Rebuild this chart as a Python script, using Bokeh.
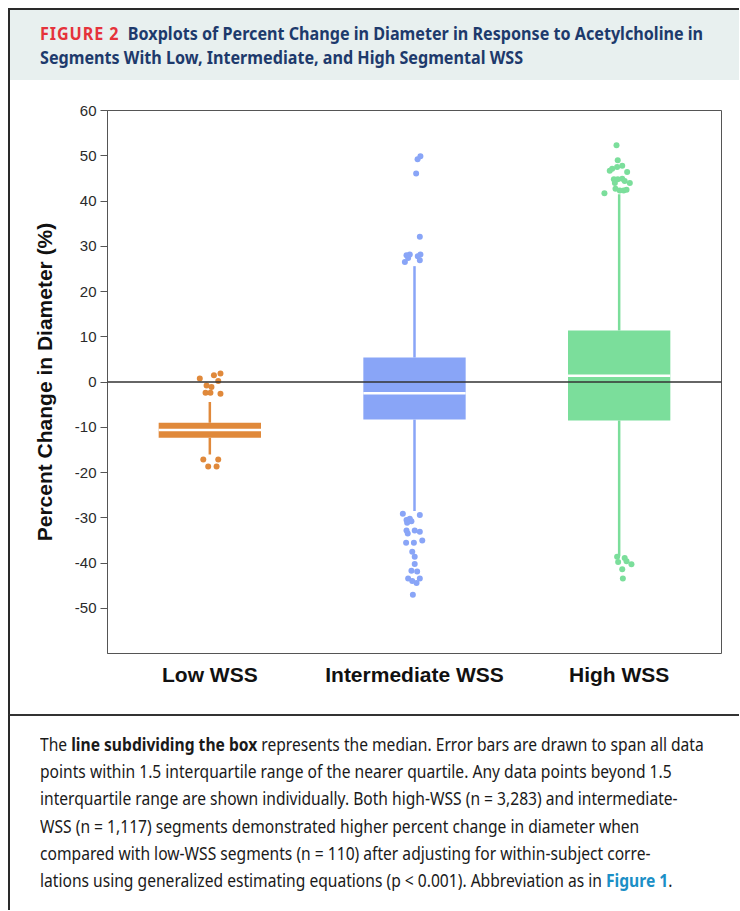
from bokeh.plotting import figure
from bokeh.models import Div, Range1d, FixedTicker, Span, ColumnDataSource
from bokeh.layouts import column, row
from bokeh.embed import file_html
from bokeh.resources import INLINE

# ---------------- data ----------------
categories = ["Low WSS", "Intermediate WSS", "High WSS"]
q1 = [-12.3, -8.3, -8.5]
median = [-10.6, -2.5, 1.4]
q3 = [-9.0, 5.4, 11.4]
whisker_low = [-16.0, -28.5, -38.5]
whisker_high = [-4.4, 25.6, 41.5]
colors = ["#E0893B", "#89A5F7", "#7BDE9B"]

# outliers: jitter offset (category units), value
low_out_jitter = [-0.049, 0.020, 0.052, 0.041, -0.016, 0.008, -0.021, 0.003, 0.052,
                  -0.032, 0.041, -0.008, 0.033]
low_out_vals = [0.8, 1.5, 1.9, 0.2, -0.8, -1.1, -2.4, -2.4, -2.6,
                -17.1, -17.1, -18.7, -18.7]

int_out_jitter = [0.029, 0.015, 0.008, 0.026, -0.023, -0.039, -0.047, 0.029, 0.016, 0.026, -0.031,
                  -0.057, 0.026, -0.039, -0.023, -0.015, -0.036, -0.039, 0.001, 0.026, -0.033,
                  -0.041, -0.003, 0.038, -0.011, 0.001, 0.001, -0.015, 0.013, -0.031, 0.026,
                  -0.011, 0.010, -0.008]
int_out_vals = [49.9, 49.2, 46.1, 32.1, 28.2, 28.0, 26.5, 28.2, 27.8, 26.9, 27.4,
                -29.1, -29.4, -30.5, -30.2, -30.8, -31.1, -32.8, -32.8, -33.1, -33.5,
                -35.5, -35.5, -35.0, -37.5, -38.6, -40.2, -41.7, -41.9, -43.4, -43.4,
                -44.0, -44.4, -47.0]

high_out_jitter = [-0.013, -0.007, 0.015, -0.010, -0.034, -0.046, 0.039, -0.026, -0.007,
                   0.015, 0.027, 0.052, -0.021, -0.018, 0.003, 0.022, 0.036, -0.072,
                   -0.010, 0.027, -0.005, 0.036, 0.060, 0.015, 0.018]
high_out_vals = [52.3, 49.0, 47.8, 47.5, 47.1, 46.7, 46.4, 44.8, 44.8,
                 44.9, 44.4, 44.0, 44.0, 42.7, 42.3, 42.3, 42.5, 41.7,
                 -38.6, -38.9, -39.8, -39.6, -40.3, -41.4, -43.4]

y_ticks = [-50, -40, -30, -20, -10, 0, 10, 20, 30, 40, 50, 60]

W = 731

# ---------------- header ----------------
hfont = "'Noto Sans','DejaVu Sans',sans-serif"
header = Div(
    text=(
        f'<div style="width:{W}px;height:72px;background:#e8f0ef;box-sizing:border-box;'
        f'border-top:2px solid #2a2a2a;border-left:2px solid #2a2a2a;overflow:hidden;'
        f'padding:11px 0 0 30px;">'
        f'<div style="display:inline-block;transform:scaleX(0.922);transform-origin:0 0;'
        f'font-family:{hfont};font-weight:bold;font-size:17.5px;line-height:24px;'
        f'color:#1d3a6c;white-space:nowrap;">'
        f'<span style="color:#e5333b;letter-spacing:1px;">FIGURE 2</span>&nbsp;&nbsp;'
        f'Boxplots of Percent Change in Diameter in Response to Acetylcholine in<br>'
        f'Segments With Low, Intermediate, and High Segmental WSS</div></div>'
    ),
    width=W, height=72, margin=0,
)

# ---------------- chart ----------------
p = figure(width=W - 2, height=634, output_backend="svg", toolbar_location=None,
           x_range=Range1d(0, 3), y_range=Range1d(-60, 60), margin=0,
           min_border_left=97, min_border_right=18, min_border_top=30, min_border_bottom=61)
p.grid.visible = False
p.outline_line_color = "#555555"
p.outline_line_width = 1
p.background_fill_color = "white"
p.border_fill_color = "white"

xs = [i + 0.5 for i in range(len(categories))]

p.add_layout(Span(location=0, dimension="width", line_color="#333333", line_width=1.5))

src = ColumnDataSource(dict(x=xs, q1=q1, q3=q3, med=median, lo=whisker_low, hi=whisker_high,
                            c=colors))
p.segment(x0="x", y0="lo", x1="x", y1="q1", line_color="c", line_width=2.5, source=src)
p.segment(x0="x", y0="q3", x1="x", y1="hi", line_color="c", line_width=2.5, source=src)
p.vbar(x="x", width=0.5, bottom="q1", top="q3", fill_color="c", line_color=None, source=src)
p.segment(x0=[x - 0.25 for x in xs], y0=median, x1=[x + 0.25 for x in xs], y1=median,
          line_color="white", line_width=2.5)

for i, (jit, vals) in enumerate([(low_out_jitter, low_out_vals),
                                  (int_out_jitter, int_out_vals),
                                  (high_out_jitter, high_out_vals)]):
    p.scatter(x=[xs[i] + j for j in jit], y=vals, size=6, fill_color=colors[i],
              line_color=None)

# axes
p.yaxis.ticker = FixedTicker(ticks=y_ticks)
p.yaxis.major_label_overrides = {t: str(t) for t in y_ticks}
p.yaxis.axis_label = "Percent Change in Diameter (%)"
p.yaxis.axis_label_text_font = "Liberation Sans"
p.yaxis.axis_label_text_font_style = "bold"
p.yaxis.axis_label_text_font_size = "21px"
p.yaxis.axis_label_text_color = "#111111"
p.yaxis.axis_label_standoff = 16
p.yaxis.major_label_text_font = "Liberation Sans"
p.yaxis.major_label_text_font_size = "15px"
p.yaxis.major_label_text_color = "#2a2a2a"
p.yaxis.major_label_standoff = 4
p.yaxis.major_tick_out = 7
p.yaxis.major_tick_in = 0
p.yaxis.minor_tick_line_color = None
p.yaxis.axis_line_color = "#555555"
p.yaxis.major_tick_line_color = "#555555"

p.xaxis.ticker = FixedTicker(ticks=xs)
p.xaxis.major_label_overrides = {x: c for x, c in zip(xs, categories)}
p.xaxis.major_label_text_font = "Liberation Sans"
p.xaxis.major_label_text_font_style = "bold"
p.xaxis.major_label_text_font_size = "21px"
p.xaxis.major_label_text_color = "#111111"
p.xaxis.major_label_standoff = 3
p.xaxis.major_tick_line_color = None
p.xaxis.minor_tick_line_color = None
p.xaxis.axis_line_color = None

left_rule = Div(text='<div style="width:2px;height:634px;background:#2a2a2a;"></div>',
                width=2, height=634, margin=0)

# ---------------- caption ----------------
cfont = "'Noto Sans','DejaVu Sans',sans-serif"
caption = Div(
    text=(
        f'<div style="width:{W}px;height:196px;box-sizing:border-box;border-top:2px solid #333;'
        f'border-left:2px solid #2a2a2a;overflow:hidden;padding:15px 0 0 30px;">'
        f'<div style="display:inline-block;transform:scaleX(0.892);transform-origin:0 0;'
        f'font-family:{cfont};font-size:17.5px;line-height:27.2px;color:#1a1a1a;white-space:nowrap;">'
        f'The <b>line subdividing the box</b> represents the median. Error bars are drawn to span all data<br>'
        f'points within 1.5 interquartile range of the nearer quartile. Any data points beyond 1.5<br>'
        f'interquartile range are shown individually. Both high-WSS (n = 3,283) and intermediate-<br>'
        f'WSS (n = 1,117) segments demonstrated higher percent change in diameter when<br>'
        f'compared with low-WSS segments (n = 110) after adjusting for within-subject corre-<br>'
        f'lations using generalized estimating equations (p &lt; 0.001). Abbreviation as in '
        f'<b style="color:#1b8fc6;">Figure 1</b>.</div></div>'
    ),
    width=W, height=196, margin=0,
)

layout = column(header, row(left_rule, p, margin=0, spacing=0), caption,
                margin=(8, 0, 0, 8), spacing=0)

open("out.html", "w").write(file_html(layout, INLINE))
